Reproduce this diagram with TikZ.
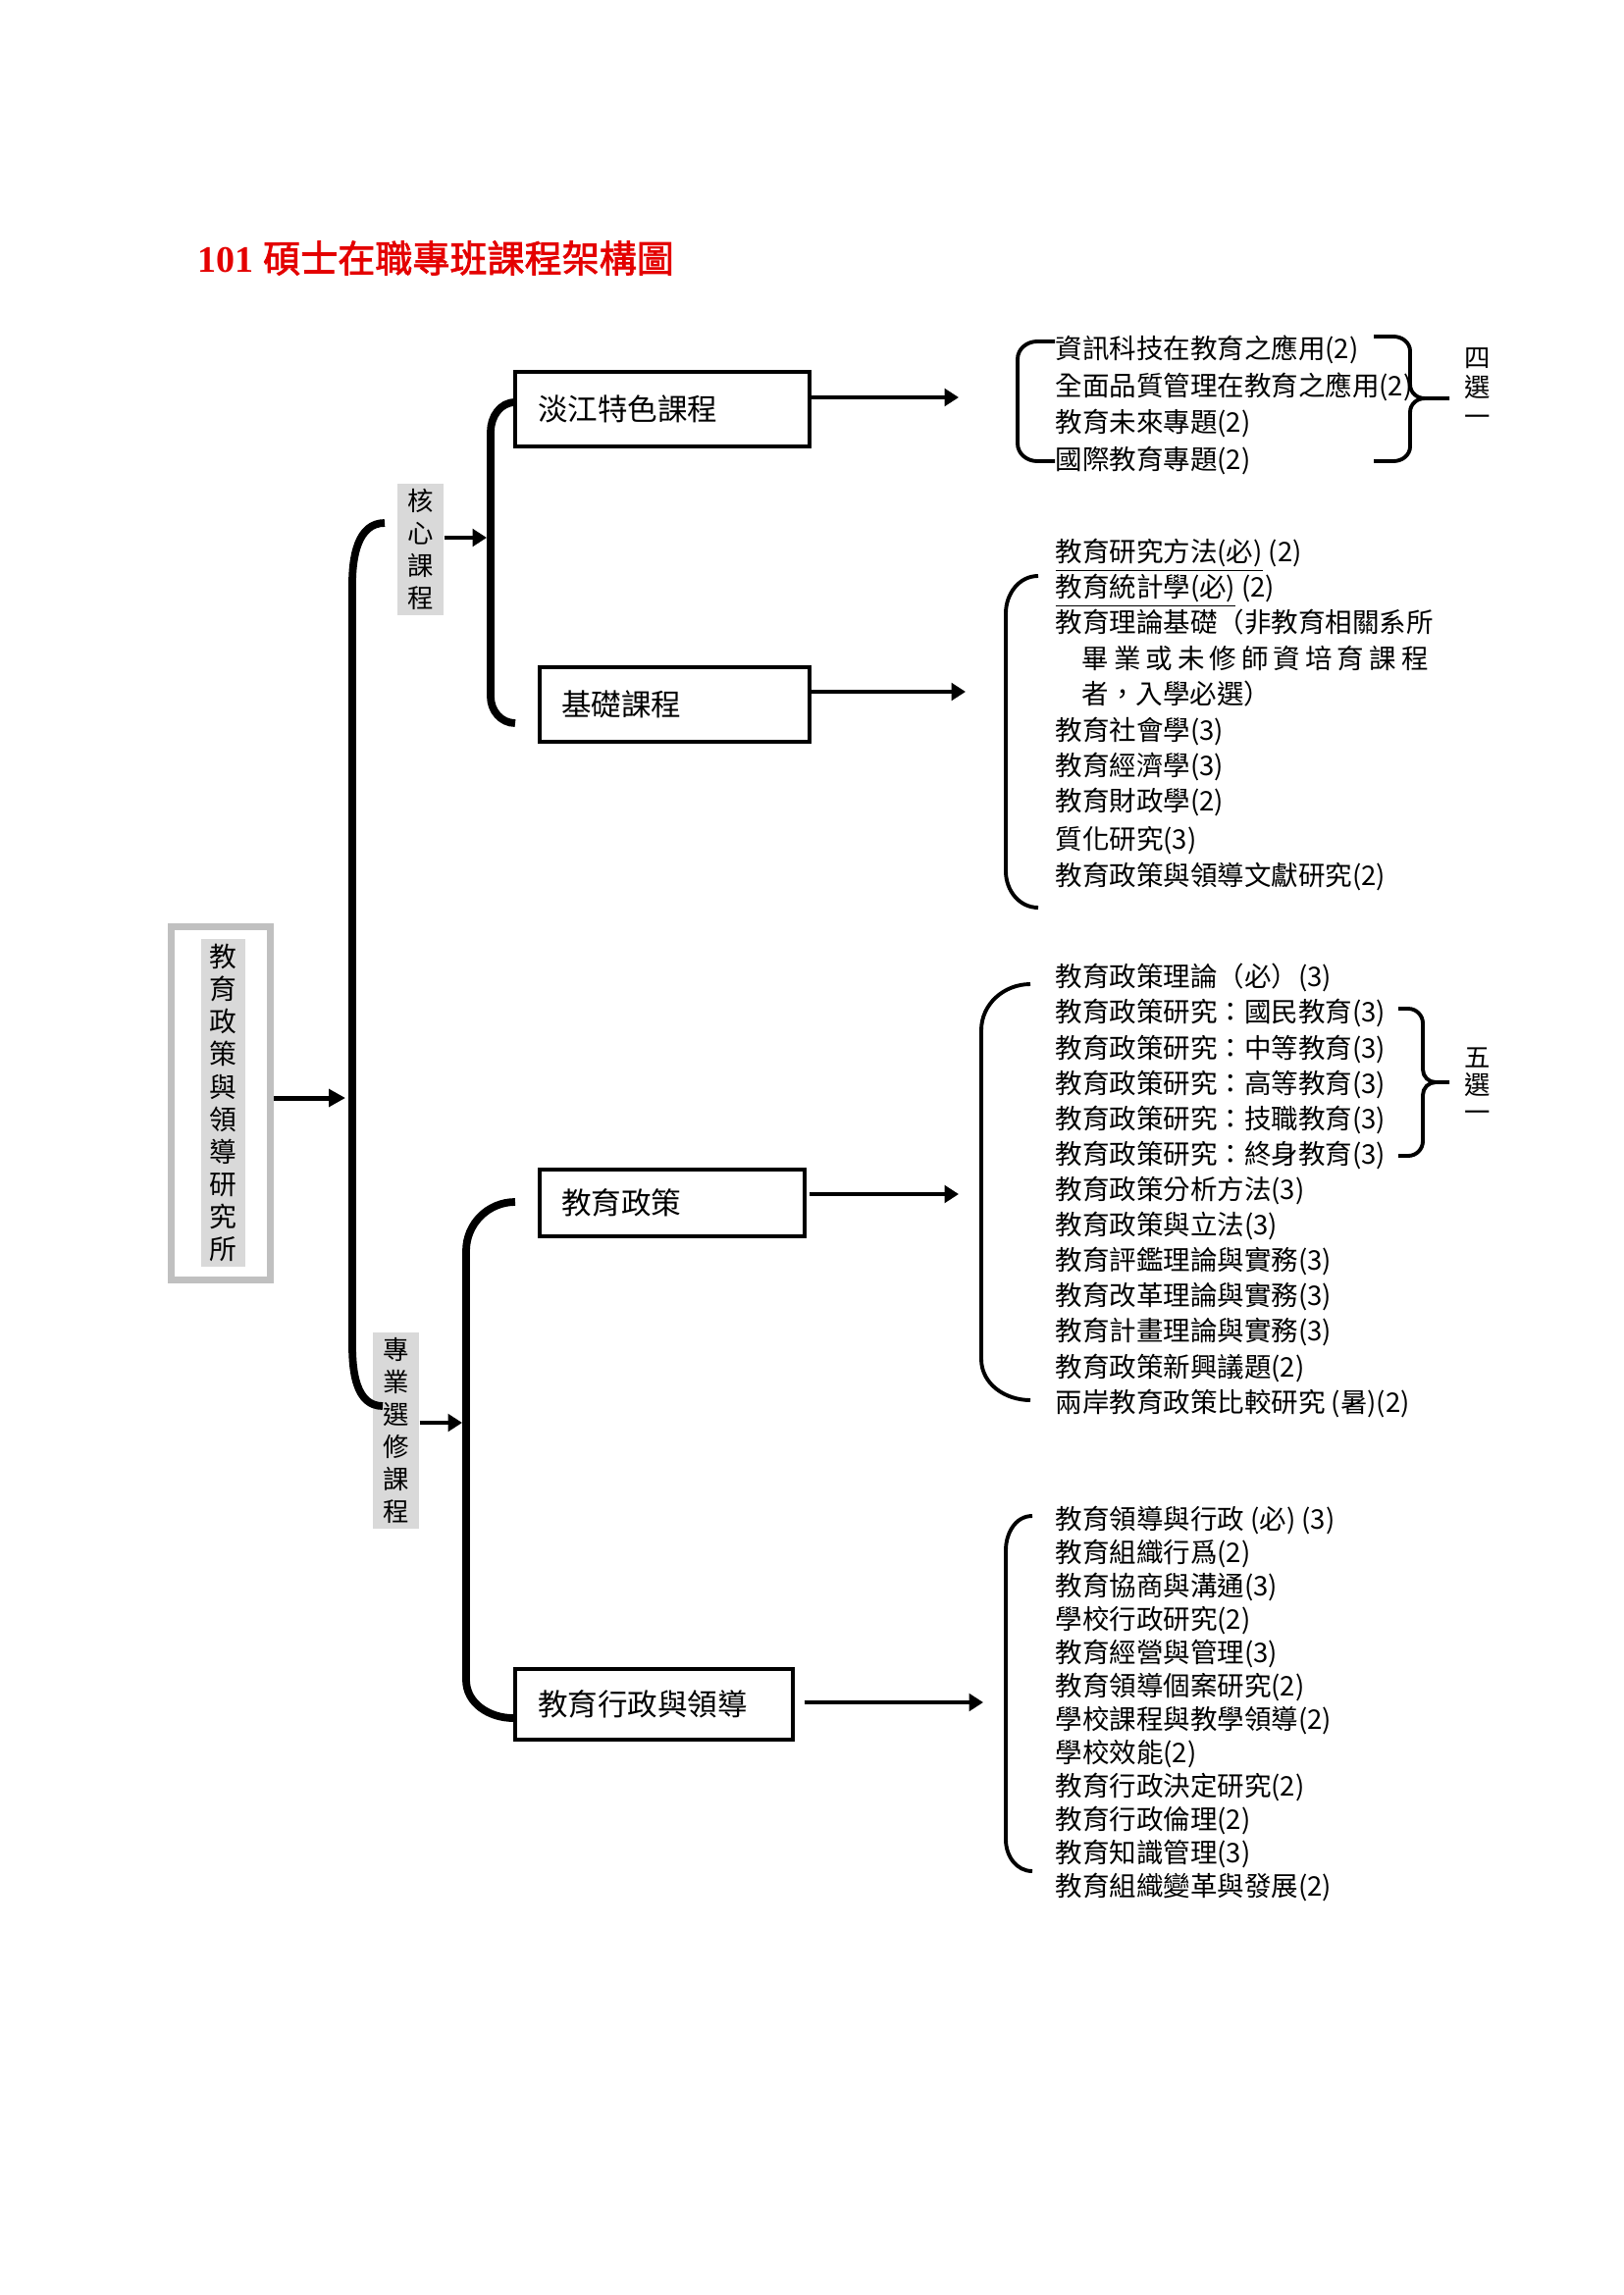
\documentclass[tikz,border=0pt]{standalone}
\usepackage{fontspec}
\setmainfont{Liberation Serif}
\newfontfamily\cjk{Noto Sans CJK TC}
\newfontfamily\cjkb[FakeBold=2]{Noto Sans CJK TC}
\usetikzlibrary{arrows.meta}
\newdimen\pxu \pxu=0.35991pt
\definecolor{titlered}{RGB}{228,0,0}
\definecolor{lblgray}{RGB}{217,217,217}
\definecolor{framegray}{RGB}{192,192,192}
\tikzset{
  box/.style={draw, line width=4\pxu, inner ysep=0pt, align=left, font=\cjk\fontsize{11pt}{13pt}\selectfont},
  lbl/.style={fill=lblgray, inner sep=0pt, align=center},
  item/.style={anchor=west, inner sep=0pt, font=\cjk\fontsize{9.9pt}{12pt}\selectfont, text height=8.7pt, text depth=1.2pt},
  vt/.style={inner sep=0pt, align=center},
  brace/.style={line width=2.8pt},
  bkt/.style={line width=1.4pt},
  arrbig/.style={line width=1.8pt, -{Triangle[length=6.1pt,width=6.3pt]}},
  arr/.style={line width=1.45pt, -{Triangle[length=5.2pt,width=6.3pt]}}
}
\begin{document}
\begin{tikzpicture}[x=0.35991pt,y=-0.35991pt]
\useasboundingbox (0,0) rectangle (1654,2339);
\fill[white] (0,0) rectangle (1654,2339);

% title
\node[anchor=west, inner sep=0pt, text=titlered] (title) at (201,263)
  {\fontsize{13.7pt}{16pt}\selectfont{\bfseries 101} {\cjkb 碩士在職專班課程架構圖}};

% institute box
\node[draw=framegray, line width=7\pxu, minimum width=101\pxu, minimum height=360\pxu, inner sep=0pt] (inst) at (225,1124.5) {};
\node[lbl, minimum width=45\pxu, minimum height=334\pxu, font=\cjk\fontsize{10pt}{11.9pt}\selectfont] (instt) at (227.5,1124)
  {教\\育\\政\\策\\與\\領\\導\\研\\究\\所};

% level-2 labels
\node[lbl, minimum width=47\pxu, minimum height=134\pxu, font=\cjk\fontsize{9.5pt}{11.9pt}\selectfont] (core) at (428.5,560)
  {核\\心\\課\\程};
\node[lbl, minimum width=47\pxu, minimum height=200\pxu, font=\cjk\fontsize{9.5pt}{11.9pt}\selectfont] (elec) at (403.5,1458)
  {專\\業\\選\\修\\課\\程};

% braces
\draw[brace] (392,533) to[out=180,in=90] (359,595) -- (359,1371) to[out=-90,in=180] (390,1433);
\draw[brace] (525,410) to[out=180,in=90] (500,440) -- (500,710) to[out=-90,in=180] (525,737);
\draw[brace] (525,1225) to[out=180,in=90] (475,1275) -- (475,1712) to[out=-90,in=180] (523,1751);

% connector end points
\coordinate (mb) at (352,1119);
\coordinate (cb) at (496,548);
\coordinate (eb) at (471,1450);
\coordinate (a1) at (977,405);
\coordinate (a2) at (984,705);
\coordinate (a3) at (977,1217);
\coordinate (a4) at (1002,1735);

\draw[arrbig] (inst.east |- mb) -- (mb);
\draw[arr] (core.east |- cb) -- (cb);
\draw[arr] (elec.east |- eb) -- (eb);

% level-3 boxes
\node[box, text width=254\pxu, inner xsep=23\pxu, minimum height=76\pxu] (tj) at (675,417) {淡江特色課程};
\node[box, text width=231\pxu, inner xsep=22\pxu, minimum height=76\pxu] (jc) at (687.5,718) {基礎課程};
\node[box, text width=226\pxu, inner xsep=22\pxu, minimum height=68\pxu] (zc) at (685,1226) {教育政策};
\node[box, text width=237\pxu, inner xsep=23\pxu, minimum height=72\pxu] (xz) at (666.5,1737) {教育行政與領導};

\draw[arr] (tj.east |- a1) -- (a1);
\draw[arr] (jc.east |- a2) -- (a2);
\draw[arr] ([xshift=1pt]zc.east |- a3) -- (a3);
\draw[arr] ([xshift=3.5pt]xz.east |- a4) -- (a4);

% list 1
\node[item] (p1) at (1075,355) {資訊科技在教育之應用(2)};
\node[item] (p2) at (1075,393) {全面品質管理在教育之應用(2)};
\node[item] (p3) at (1075,430) {教育未來專題(2)};
\node[item] (p4) at (1075,468) {國際教育專題(2)};
\draw[bkt] (1075,348) -- (1057,348) to[out=180,in=90] (1037,366) -- (1037,452) to[out=-90,in=180] (1057,470) -- (1075,470);
\draw[bkt] (1400,343) -- (1420,343) to[out=0,in=90] (1437,358) -- (1437,392) to[out=-90,in=180] (1452,406) -- (1477,406);
\draw[bkt] (1452,406) to[out=180,in=90] (1437,420) -- (1437,455) to[out=-90,in=0] (1420,470) -- (1400,470);
\node[vt, font=\cjk\fontsize{9.5pt}{10.8pt}\selectfont] (four) at (1506,395) {四\\選\\一};

% list 2
\node[item] (q1) at (1075,562) {\underline{教育研究方法(必)} (2)};
\node[item] (q2) at (1075,598) {\underline{教育統計學(必)} (2)};
\node[item] (q3) at (1075,634) {教育理論基礎（非教育相關系所};
\node[item] (q4) at (1102,671) {\hbox to 353\pxu{畢\hfil 業\hfil 或\hfil 未\hfil 修\hfil 師\hfil 資\hfil 培\hfil 育\hfil 課\hfil 程}};
\node[item] (q5) at (1102,707) {者，入學必選）};
\node[item] (q6) at (1075,744) {教育社會學(3)};
\node[item] (q7) at (1075,780) {教育經濟學(3)};
\node[item] (q8) at (1075,816) {教育財政學(2)};
\node[item] (q9) at (1075,855) {質化研究(3)};
\node[item] (q10) at (1075,892) {教育政策與領導文獻研究(2)};
\draw[bkt] (1058,587) to[out=180,in=90] (1025,625) -- (1025,888) to[out=-90,in=180] (1058,925);

% list 3
\node[item] (r1) at (1075,995) {教育政策理論（必）(3)};
\node[item] (r2) at (1075,1031) {教育政策研究：國民教育(3)};
\node[item] (r3) at (1075,1068) {教育政策研究：中等教育(3)};
\node[item] (r4) at (1075,1104) {教育政策研究：高等教育(3)};
\node[item] (r5) at (1075,1140) {教育政策研究：技職教育(3)};
\node[item] (r6) at (1075,1176) {教育政策研究：終身教育(3)};
\node[item] (r7) at (1075,1212) {教育政策分析方法(3)};
\node[item] (r8) at (1075,1248) {教育政策與立法(3)};
\node[item] (r9) at (1075,1284) {教育評鑑理論與實務(3)};
\node[item] (r10) at (1075,1320) {教育改革理論與實務(3)};
\node[item] (r11) at (1075,1356) {教育計畫理論與實務(3)};
\node[item] (r12) at (1075,1393) {教育政策新興議題(2)};
\node[item] (r13) at (1075,1429) {兩岸教育政策比較研究 (暑)(2)};
\draw[bkt] (1050,1003) to[out=180,in=90] (1000,1050) -- (1000,1385) to[out=-90,in=180] (1050,1427);
\draw[bkt] (1425,1028) -- (1435,1028) to[out=0,in=90] (1450,1043) -- (1450,1090) to[out=-90,in=180] (1463,1103) -- (1477,1103);
\draw[bkt] (1463,1103) to[out=180,in=90] (1450,1116) -- (1450,1163) to[out=-90,in=0] (1435,1178) -- (1425,1178);
\node[vt, font=\cjk\fontsize{9.5pt}{10.1pt}\selectfont] (five) at (1506,1106) {五\\選\\一};

% list 4
\node[item] (s1) at (1075,1548) {教育領導與行政 (必) (3)};
\node[item] (s2) at (1075,1582) {教育組織行爲(2)};
\node[item] (s3) at (1075,1616) {教育協商與溝通(3)};
\node[item] (s4) at (1075,1650) {學校行政研究(2)};
\node[item] (s5) at (1075,1684) {教育經營與管理(3)};
\node[item] (s6) at (1075,1718) {教育領導個案研究(2)};
\node[item] (s7) at (1075,1752) {學校課程與教學領導(2)};
\node[item] (s8) at (1075,1786) {學校效能(2)};
\node[item] (s9) at (1075,1820) {教育行政決定研究(2)};
\node[item] (s10) at (1075,1854) {教育行政倫理(2)};
\node[item] (s11) at (1075,1888) {教育知識管理(3)};
\node[item] (s12) at (1075,1922) {教育組織變革與發展(2)};
\draw[bkt] (1052,1545) to[out=180,in=90] (1025,1580) -- (1025,1875) to[out=-90,in=180] (1052,1907);
\end{tikzpicture}
\end{document}
